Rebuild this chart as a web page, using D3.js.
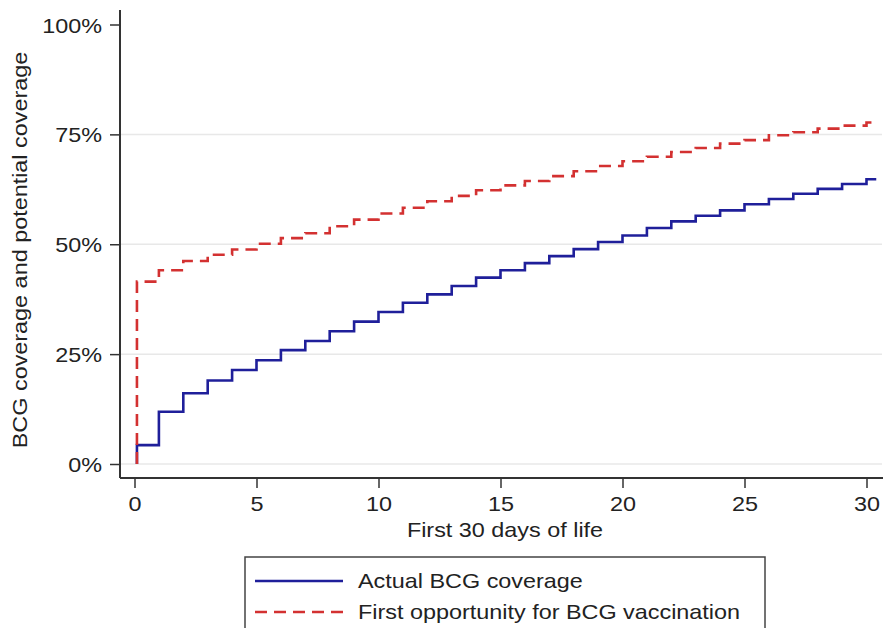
<!DOCTYPE html>
<html>
<head>
<meta charset="utf-8">
<script src="https://cdn.jsdelivr.net/npm/d3@7"></script>
<style>
  body { margin: 0; background: #fff; }
  svg { display: block; font-family: "Liberation Sans", Arial, sans-serif; }
</style>
</head>
<body>
<div id="chart"></div>
<script>
// days on which the step functions change (first step just after birth)
var days = [0.1, 1, 2, 3, 4, 5, 6, 7, 8, 9, 10, 11, 12, 13, 14, 15,
	16, 17, 18, 19, 20, 21, 22, 23, 24, 25, 26, 27, 28, 29, 30];
var lastDay = 30.4;

// coverage in percent
var actualCoverage = [4.3, 11.9, 16.1, 19.0, 21.4, 23.6, 25.9, 28.0, 30.2, 32.4, 34.6,
	36.7, 38.6, 40.5, 42.4, 44.1, 45.7, 47.3, 48.9, 50.5, 52.0,
	53.7, 55.2, 56.5, 57.7, 59.1, 60.3, 61.5, 62.6, 63.7, 64.8];
var firstOpportunity = [41.5, 44.1, 46.2, 47.6, 48.8, 50.1, 51.4, 52.5, 54.1, 55.6, 57.0,
	58.3, 59.8, 61.0, 62.3, 63.4, 64.4, 65.5, 66.6, 67.8, 68.9,
	69.9, 71.0, 71.9, 72.9, 73.7, 74.8, 75.5, 76.3, 77.0, 77.7];

var xTicks = [0, 5, 10, 15, 20, 25, 30];
var yTicks = [0, 25, 50, 75, 100];
var seriesNames = ["Actual BCG coverage", "First opportunity for BCG vaccination"];

var width = 883, height = 628;
var textColor = "#222", axisColor = "#333";
var blue = "#1f1f9a", red = "#d33131";
var sx = 1.17; // the original font runs wide

var svg = d3.select("#chart").append("svg")
	.attr("width", width)
	.attr("height", height);

var x = d3.scaleLinear().domain([0, 30]).range([134.5, 866.5]);
var y = d3.scaleLinear().domain([0, 100]).range([464, 24.5]);

function wideText(g, str, px, py, anchor, rotate) {
	return g.append("text")
		.attr("transform", "translate(" + px + "," + py + ")" +
			(rotate ? " rotate(" + rotate + ")" : "") + " scale(" + sx + ",1)")
		.attr("text-anchor", anchor)
		.attr("font-size", 20)
		.attr("fill", textColor)
		.text(str);
}

//gridlines (none at 100%)
svg.append("g").selectAll("line")
	.data(yTicks.filter(function (d) { return d < 100; }))
	.enter().append("line")
	.attr("x1", 121).attr("x2", 882)
	.attr("y1", function (d) { return y(d); })
	.attr("y2", function (d) { return y(d); })
	.attr("stroke", "#e8e8e8")
	.attr("stroke-width", 1.5);

//y axis
var yAxis = svg.append("g")
	.attr("transform", "translate(120,0)")
	.call(d3.axisLeft(y).tickValues(yTicks).tickSize(10).tickPadding(8)
		.tickFormat(function (d) { return d + "%"; }));
yAxis.select(".domain").attr("d", "M0,10V478");

//x axis
var xAxis = svg.append("g")
	.attr("transform", "translate(0,478)")
	.call(d3.axisBottom(x).tickValues(xTicks).tickSize(10).tickPadding(6));
xAxis.select(".domain").attr("d", "M120,0H883");

[yAxis, xAxis].forEach(function (ax) {
	ax.select(".domain").attr("stroke", axisColor).attr("stroke-width", 2);
	ax.selectAll(".tick line").attr("stroke", axisColor).attr("stroke-width", 1.5);
	ax.selectAll(".tick text")
		.attr("font-size", 20)
		.attr("font-family", "Liberation Sans, Arial, sans-serif")
		.attr("fill", textColor)
		.attr("transform", "scale(" + sx + ",1)")
		.attr("x", function () { return +d3.select(this).attr("x") / sx; });
});
yAxis.selectAll(".tick text").attr("dy", "0.38em");
xAxis.selectAll(".tick text").attr("dy", "0.85em");

//axis titles
wideText(svg, "First 30 days of life", 505, 537, "middle");
wideText(svg, "BCG coverage and potential coverage", 27, 250, "middle", -90);

//step lines
function stepPoints(values) {
	var pts = [[days[0], 0]];
	days.forEach(function (d, i) { pts.push([d, values[i]]); });
	pts.push([lastDay, values[values.length - 1]]);
	return pts;
}

var line = d3.line()
	.x(function (d) { return x(d[0]); })
	.y(function (d) { return y(d[1]); })
	.curve(d3.curveStepAfter);

svg.append("path")
	.attr("d", line(stepPoints(actualCoverage)))
	.attr("fill", "none")
	.attr("stroke", blue)
	.attr("stroke-width", 2.6);

svg.append("path")
	.attr("d", line(stepPoints(firstOpportunity)))
	.attr("fill", "none")
	.attr("stroke", red)
	.attr("stroke-width", 2.6)
	.attr("stroke-dasharray", "12,7");

//legend
var legend = svg.append("g");
legend.append("rect")
	.attr("x", 245).attr("y", 557)
	.attr("width", 520).attr("height", 100)
	.attr("fill", "#fff")
	.attr("stroke", "#444")
	.attr("stroke-width", 1.5);

var entries = [
	{ name: seriesNames[0], color: blue, dash: null, y: 581 },
	{ name: seriesNames[1], color: red, dash: "12,7", y: 612 }
];
entries.forEach(function (e) {
	legend.append("line")
		.attr("x1", 255).attr("x2", 343)
		.attr("y1", e.y).attr("y2", e.y)
		.attr("stroke", e.color)
		.attr("stroke-width", 2.6)
		.attr("stroke-dasharray", e.dash);
	wideText(legend, e.name, 358, e.y + 7, "start");
});
</script>
</body>
</html>
